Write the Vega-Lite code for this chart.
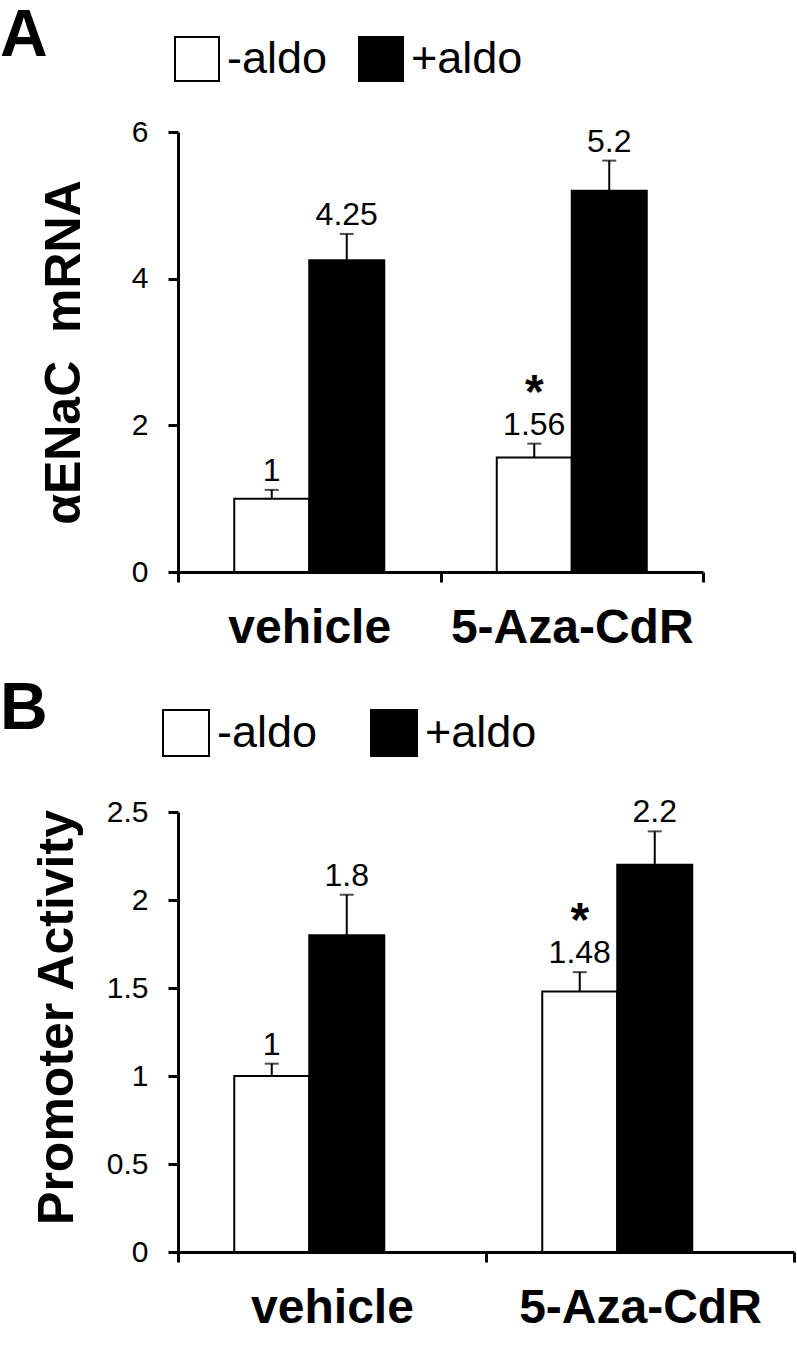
{
  "$schema": "https://vega.github.io/schema/vega-lite/v6.json",
  "background": "white",
  "padding": {"left": 0, "top": 3, "right": 0, "bottom": 0},
  "spacing": 24,
  "datasets": {
    "mrna": [
      {"treatment": "vehicle", "aldo": "-aldo", "value": 1, "err": 1.12, "label": "1", "star": ""},
      {"treatment": "vehicle", "aldo": "+aldo", "value": 4.25, "err": 4.61, "label": "4.25", "star": ""},
      {"treatment": "5-Aza-CdR", "aldo": "-aldo", "value": 1.56, "err": 1.75, "label": "1.56", "star": "*"},
      {"treatment": "5-Aza-CdR", "aldo": "+aldo", "value": 5.2, "err": 5.61, "label": "5.2", "star": ""}
    ],
    "promoter": [
      {"treatment": "vehicle", "aldo": "-aldo", "value": 1, "err": 1.07, "label": "1", "star": ""},
      {"treatment": "vehicle", "aldo": "+aldo", "value": 1.8, "err": 2.03, "label": "1.8", "star": ""},
      {"treatment": "5-Aza-CdR", "aldo": "-aldo", "value": 1.48, "err": 1.59, "label": "1.48", "star": "*"},
      {"treatment": "5-Aza-CdR", "aldo": "+aldo", "value": 2.2, "err": 2.39, "label": "2.2", "star": ""}
    ]
  },
  "config": {
    "font": "Liberation Sans",
    "view": {"stroke": null},
    "axis": {
      "domainColor": "black", "domainWidth": 3, "tickColor": "black", "tickWidth": 3, "tickSize": 10,
      "labelColor": "black", "titleColor": "black", "grid": false,
      "labelFont": "Liberation Sans", "titleFont": "Liberation Sans"
    },
    "legend": {
      "orient": "none", "direction": "horizontal", "symbolType": "square",
      "symbolStrokeColor": "black", "symbolStrokeWidth": 2, "symbolOpacity": 1,
      "labelFontSize": 45, "labelFont": "Liberation Sans", "labelColor": "black",
      "labelOffset": 7, "padding": 0, "title": null, "labelLimit": 300
    },
    "title": {"font": "Liberation Sans", "fontSize": 66, "fontWeight": "bold", "color": "black", "anchor": "start", "frame": "group"}
  },
  "resolve": {"scale": {"fill": "independent", "y": "independent", "x": "independent"}, "legend": {"fill": "independent"}},
  "vconcat": [
    {
      "title": {"text": "A", "dx": -178, "offset": -86, "baseline": "alphabetic"},
      "width": 525,
      "height": 440,
      "data": {"name": "mrna"},
      "encoding": {
        "x": {"field": "treatment", "type": "nominal", "sort": ["vehicle", "5-Aza-CdR"],
          "scale": {"paddingInner": 0, "paddingOuter": 0},
          "axis": {"title": null, "labelAngle": 0, "labelFontSize": 48, "labelFontWeight": "bold", "labelPadding": 22, "labelLimit": 400, "tickBand": "extent", "labelBaseline": "top", "domainWidth": 3, "tickWidth": 3}},
        "xOffset": {"field": "aldo", "type": "nominal", "sort": ["-aldo", "+aldo"], "scale": {"paddingInner": 0, "paddingOuter": 0.75}}
      },
      "layer": [
        {
          "mark": {"type": "bar", "stroke": "black", "strokeWidth": 2},
          "encoding": {
            "y": {"field": "value", "type": "quantitative", "scale": {"domain": [0, 6], "nice": false},
              "axis": {"values": [0, 2, 4, 6], "format": "~g", "title": "αENaC\u00a0\u00a0mRNA", "titleFontSize": 50, "titleFontWeight": "bold", "labelFontSize": 30, "labelPadding": 20, "titlePadding": 42, "domainWidth": 3, "tickWidth": 3}},
            "fill": {"field": "aldo", "type": "nominal", "scale": {"domain": ["-aldo", "+aldo"], "range": ["white", "black"]},
              "legend": {"legendX": -4, "legendY": -96, "symbolSize": 1936, "columnPadding": 27}}
          }
        },
        {
          "mark": {"type": "rule", "strokeWidth": 2, "color": "black"},
          "encoding": {"y": {"field": "value", "type": "quantitative"}, "y2": {"field": "err"}}
        },
        {
          "mark": {"type": "tick", "color": "black", "thickness": 2, "size": 14},
          "encoding": {"y": {"field": "err", "type": "quantitative"}}
        },
        {
          "mark": {"type": "text", "fontSize": 32, "dy": -9, "baseline": "alphabetic", "color": "black"},
          "encoding": {"y": {"field": "err", "type": "quantitative"}, "text": {"field": "label"}}
        },
        {
          "transform": [{"filter": "datum.star != ''"}],
          "mark": {"type": "text", "fontSize": 48, "fontWeight": "bold", "dy": -36, "baseline": "alphabetic", "color": "black"},
          "encoding": {"y": {"field": "err", "type": "quantitative"}, "text": {"field": "star"}}
        }
      ]
    },
    {
      "title": {"text": "B", "dx": -178, "offset": -86, "baseline": "alphabetic"},
      "width": 616,
      "height": 440,
      "data": {"name": "promoter"},
      "encoding": {
        "x": {"field": "treatment", "type": "nominal", "sort": ["vehicle", "5-Aza-CdR"],
          "scale": {"paddingInner": 0, "paddingOuter": 0},
          "axis": {"title": null, "labelAngle": 0, "labelFontSize": 48, "labelFontWeight": "bold", "labelPadding": 22, "labelLimit": 400, "tickBand": "extent", "labelBaseline": "top", "domainWidth": 3, "tickWidth": 3}},
        "xOffset": {"field": "aldo", "type": "nominal", "sort": ["-aldo", "+aldo"], "scale": {"paddingInner": 0, "paddingOuter": 0.75}}
      },
      "layer": [
        {
          "mark": {"type": "bar", "stroke": "black", "strokeWidth": 2},
          "encoding": {
            "y": {"field": "value", "type": "quantitative", "scale": {"domain": [0, 2.5], "nice": false},
              "axis": {"values": [0, 0.5, 1, 1.5, 2, 2.5], "format": "~g", "title": "Promoter Activity", "titleFontSize": 50, "titleFontWeight": "bold", "labelFontSize": 30, "labelPadding": 20, "titlePadding": 24, "titleY": 205, "domainWidth": 3, "tickWidth": 3}},
            "fill": {"field": "aldo", "type": "nominal", "scale": {"domain": ["-aldo", "+aldo"], "range": ["white", "black"]},
              "legend": {"legendX": -16, "legendY": -103, "symbolSize": 2116, "columnPadding": 49}}
          }
        },
        {
          "mark": {"type": "rule", "strokeWidth": 2, "color": "black"},
          "encoding": {"y": {"field": "value", "type": "quantitative"}, "y2": {"field": "err"}}
        },
        {
          "mark": {"type": "tick", "color": "black", "thickness": 2, "size": 14},
          "encoding": {"y": {"field": "err", "type": "quantitative"}}
        },
        {
          "mark": {"type": "text", "fontSize": 32, "dy": -9, "baseline": "alphabetic", "color": "black"},
          "encoding": {"y": {"field": "err", "type": "quantitative"}, "text": {"field": "label"}}
        },
        {
          "transform": [{"filter": "datum.star != ''"}],
          "mark": {"type": "text", "fontSize": 48, "fontWeight": "bold", "dy": -36, "baseline": "alphabetic", "color": "black"},
          "encoding": {"y": {"field": "err", "type": "quantitative"}, "text": {"field": "star"}}
        }
      ]
    }
  ]
}
